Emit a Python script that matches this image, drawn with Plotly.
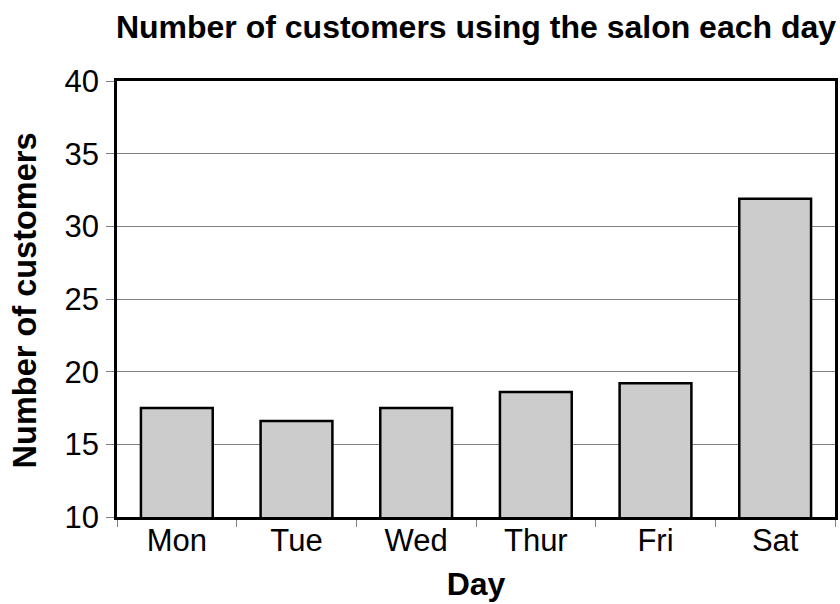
import plotly.graph_objects as go

days = ["Mon", "Tue", "Wed", "Thur", "Fri", "Sat"]
customers = [17.5, 16.6, 17.5, 18.6, 19.2, 31.9]
y_ticks = [10, 15, 20, 25, 30, 35, 40]

FONT = "Liberation Sans, Arial, sans-serif"

L, R, T, B = 117, 2, 81, 87
W, H = 840, 604
PW = W - L - R
PH = H - T - B

fig = go.Figure(
    go.Bar(
        x=days,
        y=customers,
        marker=dict(color="#cccccc", line=dict(color="black", width=2.5)),
    )
)

fig.update_layout(
    width=W,
    height=H,
    margin=dict(l=L, r=R, t=T, b=B),
    plot_bgcolor="white",
    paper_bgcolor="white",
    bargap=0.4,
    showlegend=False,
    font=dict(family=FONT, color="black", size=31),
    title=dict(
        text="<b>Number of customers using the salon each day</b>",
        font=dict(family=FONT, size=32, color="black"),
        x=476 / W,
        xanchor="center",
        y=1 - 27 / H,
        yanchor="middle",
    ),
    annotations=[
        dict(
            text="<b>Number of customers</b>",
            xref="paper",
            yref="paper",
            x=(25 - L) / PW,
            y=(H - B - 300) / PH,
            xanchor="center",
            yanchor="middle",
            textangle=-90,
            showarrow=False,
            font=dict(family=FONT, size=32.5, color="black"),
        )
    ],
)

fig.update_xaxes(
    title=dict(text="<b>Day</b>", font=dict(size=32), standoff=16),
    showline=True,
    linecolor="black",
    linewidth=2.5,
    mirror=True,
    ticks="outside",
    tickson="boundaries",
    ticklen=7,
    tickcolor="#808080",
    tickwidth=1,
    showgrid=False,
    tickfont=dict(size=31),
    ticklabelstandoff=-6,
)

fig.update_yaxes(
    range=[10, 40],
    tickvals=y_ticks,
    showline=True,
    linecolor="black",
    linewidth=2.5,
    mirror=True,
    ticks="outside",
    ticklen=8,
    tickcolor="#808080",
    tickwidth=1,
    showgrid=True,
    gridcolor="#808080",
    gridwidth=1,
    zeroline=False,
    tickfont=dict(size=31),
    ticklabelstandoff=1,
)

fig.write_html(
    "out.html",
    config={"displayModeBar": False},
    post_script="document.body.style.margin='0';document.body.style.overflow='hidden';",
)
